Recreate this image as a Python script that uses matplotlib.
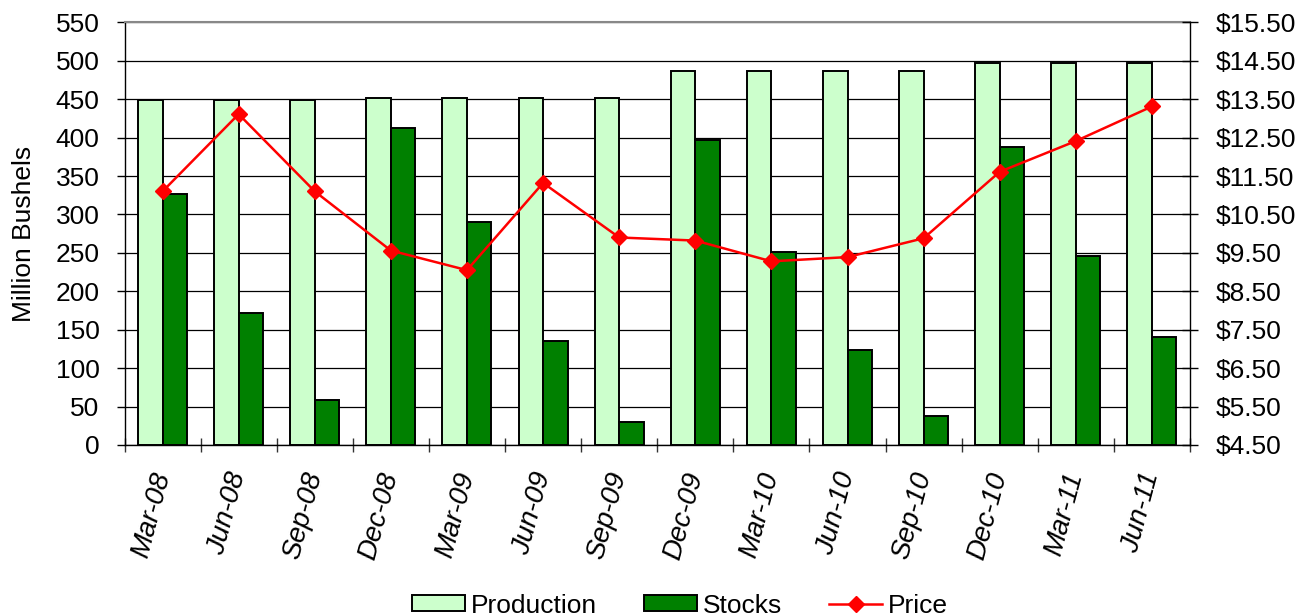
import matplotlib
matplotlib.use("Agg")
import matplotlib.pyplot as plt
import numpy as np
from matplotlib.patches import Patch
from matplotlib.lines import Line2D

plt.rcParams['font.family'] = ['Liberation Sans', 'DejaVu Sans']

categories = ["Mar-08", "Jun-08", "Sep-08", "Dec-08", "Mar-09", "Jun-09", "Sep-09",
              "Dec-09", "Mar-10", "Jun-10", "Sep-10", "Dec-10", "Mar-11", "Jun-11"]
production = [449, 449, 449, 451, 451, 451, 451, 486, 486, 486, 486, 497, 497, 497]
stocks = [327, 172, 58, 412, 290, 135, 30, 397, 251, 124, 38, 388, 246, 140]
price = [11.10, 13.11, 11.10, 9.56, 9.05, 11.32, 9.90, 9.82, 9.28, 9.39, 9.88, 11.61, 12.41, 13.31]
left_ticks = list(range(0, 551, 50))
right_ticks = [4.5 + i for i in range(12)]

fig = plt.figure(figsize=(13, 6.16), dpi=100)
ax1 = fig.add_axes([124.5/1300, 1-445/616, (1190-124.5)/1300, (445-22.3)/616])
ax2 = ax1.twinx()

x = np.arange(len(categories))
w = 0.322
ax1.bar(x - w/2, production, width=w, color='#CCFFCC', edgecolor='black', linewidth=1.4, zorder=2)
ax1.bar(x + w/2, stocks, width=w, color='#008000', edgecolor='black', linewidth=1.4, zorder=2)

ax2.plot(x, price, color='#FF0000', linewidth=1.8, marker='D', markersize=8.5,
         markerfacecolor='#FF0000', markeredgecolor='#FF0000', zorder=3)

ax1.set_xlim(-0.5, len(categories) - 0.5)
ax1.set_ylim(0, 550)
ax2.set_ylim(4.5, 15.5)

ax1.set_yticks(left_ticks)
ax1.set_yticklabels([str(v) for v in left_ticks], fontsize=19)
ax2.set_yticks(right_ticks)
ax2.set_yticklabels(["$%.2f" % v for v in right_ticks], fontsize=19)

ax1.set_axisbelow(True)
ax1.yaxis.grid(True, color='black', linewidth=0.9)

ax1.set_xticks(x)
ax1.set_xticklabels(categories, fontsize=20, rotation=75, style='italic',
                    ha='right', va='center', rotation_mode='anchor')
ax1.tick_params(axis='x', which='major', length=0, pad=20)
ax1.set_xticks(np.arange(-0.5, len(categories), 1.0), minor=True)
ax1.tick_params(axis='x', which='minor', direction='inout', length=10, width=1, color='#333333')

ax1.tick_params(axis='y', direction='out', length=6, width=1, pad=12)
ax2.tick_params(axis='y', direction='inout', length=11, width=1, pad=13)

for s in ['left', 'bottom']:
    ax1.spines[s].set_color('black')
    ax1.spines[s].set_linewidth(1)
ax1.spines['right'].set_visible(False)
ax1.spines['top'].set_color('#888888')
ax1.spines['top'].set_linewidth(1.5)
for s in ['left', 'bottom', 'top']:
    ax2.spines[s].set_visible(False)
ax2.spines['right'].set_color('black')
ax2.spines['right'].set_linewidth(1)

ax1.set_ylabel("Million Bushels", fontsize=19, labelpad=14)

handles = [Patch(facecolor='#CCFFCC', edgecolor='black', linewidth=1.4),
           Patch(facecolor='#008000', edgecolor='black', linewidth=1.4),
           Line2D([0], [0], color='#FF0000', linewidth=1.8, marker='D', markersize=8.5)]
fig.legend(handles, ["Production", "Stocks", "Price"], loc='center', ncol=3,
           bbox_to_anchor=(0.523, 0.017), frameon=False, fontsize=19,
           handlelength=2.0, handleheight=0.58, handletextpad=0.22, columnspacing=1.8,
           borderpad=0.0)

fig.savefig("out.png", dpi=100)
